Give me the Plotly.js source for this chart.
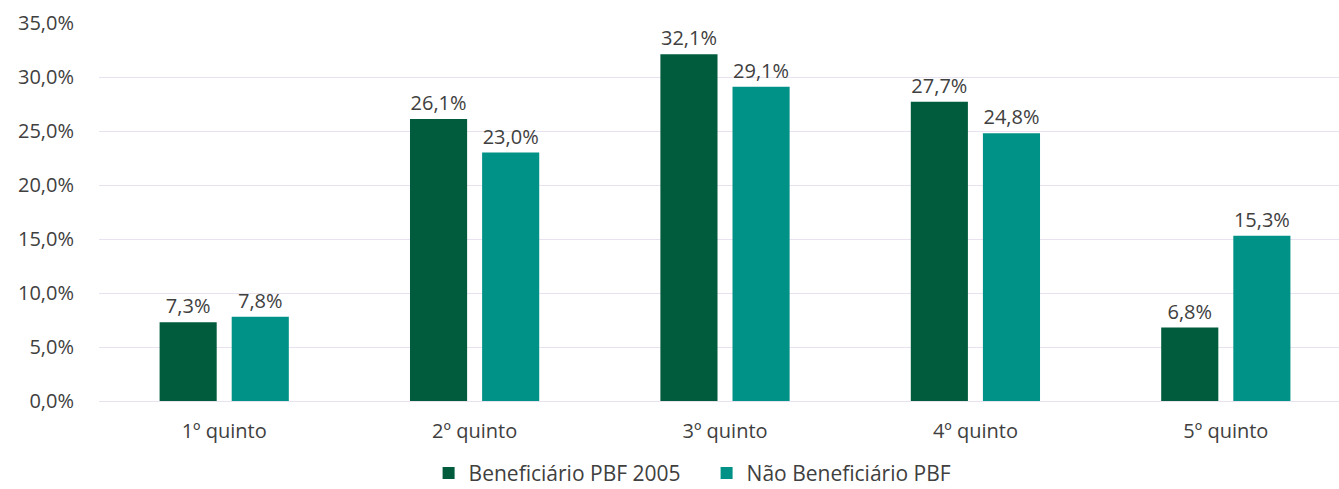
<!DOCTYPE html>
<html>
<head>
<meta charset="utf-8">
<script src="https://cdn.plot.ly/plotly-3.0.1.min.js"></script>
<style>html,body{margin:0;padding:0;background:#fff;}#chart{width:1339px;height:489px;}</style>
</head>
<body>
<div id="chart"></div>
<script>
const categories = ["1º quinto", "2º quinto", "3º quinto", "4º quinto", "5º quinto"];
const beneficiario = [7.3, 26.1, 32.1, 27.7, 6.8];
const naoBeneficiario = [7.8, 23.0, 29.1, 24.8, 15.3];
const seriesNames = ["Beneficiário PBF 2005", "Não Beneficiário PBF"];
const yTicks = [0, 5, 10, 15, 20, 25, 30, 35];
const yTickText = ["0,0%", "5,0%", "10,0%", "15,0%", "20,0%", "25,0%", "30,0%", "35,0%"];

const font = {family: "'Open Sans', sans-serif", size: 20, color: "#404040"};
const legendFont = {family: "'Open Sans', sans-serif", size: 21, color: "#404040"};

const traces = [
  {type: "bar", name: seriesNames[0], x: categories, y: beneficiario,
   marker: {color: "#015C3D"}, texttemplate: "%{y:.1f}%", textposition: "outside",
   textfont: font, cliponaxis: false, hoverinfo: "none"},
  {type: "bar", name: seriesNames[1], x: categories, y: naoBeneficiario,
   marker: {color: "#009286"}, texttemplate: "%{y:.1f}%", textposition: "outside",
   textfont: font, cliponaxis: false, hoverinfo: "none"}
];

const layout = {
  width: 1339, height: 489,
  margin: {l: 99, r: 0, t: 23, b: 88},
  separators: ",.",
  font: font,
  paper_bgcolor: "#fff", plot_bgcolor: "#fff",
  barmode: "group", bargap: 0.424, bargroupgap: 0.208,
  xaxis: {type: "category", range: [-0.5, 4.452], showgrid: false, zeroline: false,
          showline: false, ticks: "", ticklabelstandoff: 16, tickfont: font},
  yaxis: {range: [0, 35], tickvals: yTicks, ticktext: yTickText,
          showgrid: true, gridcolor: "#E8E2F0", gridwidth: 1, zeroline: true,
          zerolinecolor: "#E8E2F0", zerolinewidth: 1, showline: false, ticks: "",
          ticklabelstandoff: 24, tickfont: font},
  showlegend: true,
  legend: {orientation: "h", x: 0.49, xanchor: "center", xref: "paper",
           yref: "container", y: 0.032, yanchor: "middle",
           font: legendFont, itemwidth: 30, entrywidth: 233, traceorder: "normal"}
};

Plotly.newPlot("chart", traces, layout, {displayModeBar: false, staticPlot: true});
</script>
</body>
</html>
